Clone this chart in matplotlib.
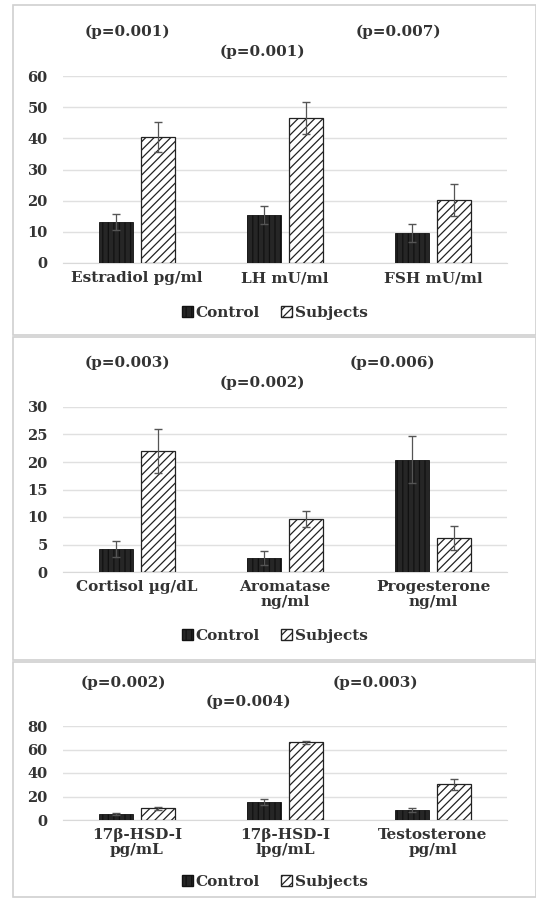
import matplotlib
matplotlib.use("Agg")
import matplotlib.pyplot as plt
import numpy as np
from matplotlib.patches import Rectangle, Patch

plt.rcParams['font.family'] = ['DejaVu Serif', 'Liberation Serif']
plt.rcParams['font.weight'] = 'bold'
plt.rcParams['hatch.linewidth'] = 0.9

# ---- data ----
cats1 = ["Estradiol pg/ml", "LH mU/ml", "FSH mU/ml"]
ctrl1 = [13.2, 15.4, 9.6]
ctrl1_err = [2.5, 2.9, 2.9]
subj1 = [40.4, 46.5, 20.2]
subj1_err = [4.8, 5.1, 5.1]
pvals1 = ["(p=0.001)", "(p=0.001)", "(p=0.007)"]
yticks1 = [0, 10, 20, 30, 40, 50, 60]

cats2 = ["Cortisol µg/dL", "Aromatase\nng/ml", "Progesterone\nng/ml"]
ctrl2 = [4.2, 2.5, 20.4]
ctrl2_err = [1.4, 1.3, 4.3]
subj2 = [22.0, 9.6, 6.2]
subj2_err = [4.0, 1.5, 2.2]
pvals2 = ["(p=0.003)", "(p=0.002)", "(p=0.006)"]
yticks2 = [0, 5, 10, 15, 20, 25, 30]

cats3 = ["17β-HSD-I\npg/mL", "17β-HSD-I\nlpg/mL", "Testosterone\npg/ml"]
ctrl3 = [5.0, 15.6, 8.5]
ctrl3_err = [0.8, 2.5, 2.0]
subj3 = [10.0, 66.0, 30.4]
subj3_err = [1.2, 1.5, 4.5]
pvals3 = ["(p=0.002)", "(p=0.004)", "(p=0.003)"]
yticks3 = [0, 20, 40, 60, 80]

W, H = 536, 899
fig = plt.figure(figsize=(W / 100, H / 100), dpi=100)

TXT = '#333333'
CTRL = '#262626'
FS = 11
FS_TICK = 10.5

def fx(px):
    return px / W

def fy(py):
    return 1 - py / H

# panel borders
for (top, bot) in [(5, 335), (337, 660), (662, 897)]:
    fig.add_artist(Rectangle((fx(13), fy(bot)), fx(536) - fx(13), fy(top) - fy(bot),
                             transform=fig.transFigure, fill=False,
                             edgecolor='#d0d0d0', lw=1.2))

def panel(cats, ctrl, ctrl_err, subj, subj_err, pvals, yticks,
          ax_top, ax_bot, p_rows, leg_y):
    ax = fig.add_axes([fx(63), fy(ax_bot), fx(507) - fx(63), fy(ax_top) - fy(ax_bot)])
    x = np.arange(len(cats))
    w = 0.23
    off = 0.14
    ax.bar(x - off, ctrl, w, color=CTRL, edgecolor='#111111', hatch='|||', lw=0.6,
           yerr=ctrl_err, error_kw=dict(ecolor='#555555', capsize=3, elinewidth=0.9), zorder=3)
    ax.bar(x + off, subj, w, color='white', edgecolor='#222222', hatch='////', lw=0.9,
           yerr=subj_err, error_kw=dict(ecolor='#555555', capsize=3, elinewidth=0.9), zorder=3)
    ax.set_xlim(-0.5, len(cats) - 0.5)
    ax.set_ylim(yticks[0], yticks[-1])
    ax.set_yticks(yticks)
    ax.set_yticklabels([str(t) for t in yticks], fontsize=FS_TICK, color=TXT, fontweight='bold')
    ax.set_xticks(x)
    ax.set_xticklabels(cats, fontsize=FS, color=TXT, fontweight='bold', linespacing=1.05)
    ax.tick_params(axis='y', length=0, pad=11)
    ax.tick_params(axis='x', length=0, pad=6)
    ax.grid(axis='y', color='#e0e0e0', lw=1, zorder=0)
    for s in ['top', 'right', 'left']:
        ax.spines[s].set_visible(False)
    ax.spines['bottom'].set_color('#d9d9d9')
    ax.set_axisbelow(True)
    # p-values
    for (px, py), t in zip(p_rows, pvals):
        fig.text(fx(px), fy(py), t, ha='center', va='center', fontsize=FS,
                 color=TXT, fontweight='bold')
    handles = [Patch(facecolor=CTRL, edgecolor='#111111', hatch='|||', label='Control'),
               Patch(facecolor='white', edgecolor='#222222', hatch='////', label='Subjects')]
    fig.legend(handles=handles, loc='center', bbox_to_anchor=(fx(275), fy(leg_y)),
               ncol=2, frameon=False, handlelength=0.7, handleheight=0.7,
               handletextpad=0.2, columnspacing=1.4, labelcolor=TXT,
               prop={'weight': 'bold', 'size': FS})
    return ax

panel(cats1, ctrl1, ctrl1_err, subj1, subj1_err, pvals1, yticks1,
      76, 263, [(127, 32), (262, 52), (398, 32)], 313)
panel(cats2, ctrl2, ctrl2_err, subj2, subj2_err, pvals2, yticks2,
      407, 572, [(127, 363), (262, 383), (392, 363)], 636)
panel(cats3, ctrl3, ctrl3_err, subj3, subj3_err, pvals3, yticks3,
      726, 820, [(123, 683), (248, 702), (375, 683)], 882)

fig.savefig("out.png", dpi=100)
